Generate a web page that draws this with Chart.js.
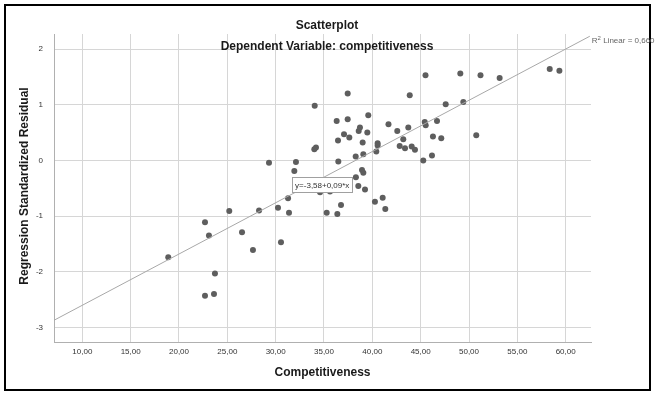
<!DOCTYPE html>
<html>
<head>
<meta charset="utf-8">
<script src="https://cdn.jsdelivr.net/npm/chart.js@4.4.1/dist/chart.umd.min.js"></script>
<style>
  html, body { margin: 0; padding: 0; background: #fff; }
</style>
</head>
<body>
<canvas id="scatterChart" width="655" height="394"></canvas>
<script>
// Competitiveness (x) vs regression standardized residual (y)
const competitiveness = [
    18.89, 22.69, 22.69, 23.10, 23.62, 23.72, 25.20, 26.52, 27.65, 28.28,
    29.31, 30.24, 30.55, 31.28, 31.38, 31.93, 32.10, 34.00, 34.04, 34.17,
    34.59, 35.28, 35.62, 36.31, 36.38, 36.45, 36.48, 36.76, 37.07, 37.45,
    37.45, 37.62, 38.28, 38.30, 38.55, 38.59, 38.72, 38.93, 39.00, 39.07,
    39.07, 39.24, 39.48, 39.58, 40.27, 40.41, 40.55, 40.55, 41.07, 41.34,
    41.67, 42.58, 42.83, 43.20, 43.38, 43.72, 43.87, 44.07, 44.41, 45.27,
    45.42, 45.50, 45.52, 46.17, 46.27, 46.69, 47.13, 47.59, 49.10, 49.41,
    50.75, 51.19, 53.17, 58.35, 59.35
];
const residuals = [
    -1.74, -1.11, -2.43, -1.35, -2.40, -2.03, -0.91, -1.29, -1.61, -0.90,
    -0.04, -0.85, -1.47, -0.68, -0.94, -0.19, -0.03, 0.20, 0.98, 0.23,
    -0.57, -0.94, -0.56, 0.71, -0.96, 0.36, -0.02, -0.80, 0.47, 1.20,
    0.74, 0.41, 0.07, -0.30, -0.46, 0.53, 0.59, -0.17, 0.32, -0.22,
    0.11, -0.52, 0.50, 0.81, -0.74, 0.16, 0.31, 0.27, -0.67, -0.87,
    0.65, 0.53, 0.26, 0.38, 0.22, 0.59, 1.17, 0.25, 0.19, 0.00,
    0.69, 1.53, 0.63, 0.09, 0.43, 0.71, 0.40, 1.01, 1.56, 1.05,
    0.45, 1.53, 1.48, 1.64, 1.61
];

// fit line end points (as drawn)
const fitX = [7.07, 62.5];
const fitY = [-2.87, 2.23];

const xTicks = [10, 15, 20, 25, 30, 35, 40, 45, 50, 55, 60];
const yTicks = [-3, -2, -1, 0, 1, 2];

const chartTitle = 'Scatterplot';
const chartSubtitle = 'Dependent Variable: competitiveness';
const xTitle = 'Competitiveness';
const yTitle = 'Regression Standardized Residual';
const eqLabel = 'y=-3,58+0,09*x';
const eqAnchor = [31.7, -0.44];
const r2Value = '0,660';

const FONT = '"Liberation Sans", Arial, sans-serif';

const decorPlugin = {
    id: 'decor',
    afterDraw(chart) {
        const { ctx, chartArea } = chart;
        const xs = chart.scales.x, ys = chart.scales.y;
        ctx.save();

        // frame
        ctx.strokeStyle = '#000';
        ctx.lineWidth = 2;
        ctx.strokeRect(5, 5, 645, 385);

        // titles
        ctx.fillStyle = '#1a1a1a';
        ctx.textAlign = 'center';
        ctx.textBaseline = 'middle';
        ctx.font = 'bold 12px ' + FONT;
        ctx.fillText(chartTitle, 327, 26);
        ctx.fillText(chartSubtitle, 327, 47);
        ctx.fillText(xTitle, (chartArea.left + chartArea.right) / 2, 373);

        ctx.save();
        ctx.translate(25, 186);
        ctx.rotate(-Math.PI / 2);
        ctx.fillText(yTitle, 0, 0);
        ctx.restore();

        // equation box
        const bx = xs.getPixelForValue(eqAnchor[0]);
        const by = ys.getPixelForValue(eqAnchor[1]);
        ctx.font = '8px ' + FONT;
        const w = ctx.measureText(eqLabel).width + 6;
        ctx.fillStyle = '#fff';
        ctx.fillRect(bx, by - 7.5, w, 15);
        ctx.strokeStyle = '#a0a0a0';
        ctx.lineWidth = 1;
        ctx.strokeRect(Math.round(bx) + 0.5, Math.round(by - 7.5) + 0.5, Math.round(w), 15);
        ctx.fillStyle = '#333';
        ctx.textAlign = 'left';
        ctx.fillText(eqLabel, bx + 3, by + 0.5);

        // R² label at end of fit line
        const rx = xs.getPixelForValue(fitX[1]) + 2;
        const ry = ys.getPixelForValue(fitY[1]) + 5;
        ctx.fillStyle = '#666';
        ctx.font = '8px ' + FONT;
        ctx.fillText('R', rx, ry);
        let off = ctx.measureText('R').width;
        ctx.font = '6px ' + FONT;
        ctx.fillText('2', rx + off, ry - 3);
        off += ctx.measureText('2').width;
        ctx.font = '8px ' + FONT;
        ctx.fillText(' Linear = ' + r2Value, rx + off, ry);

        ctx.restore();
    }
};

new Chart(document.getElementById('scatterChart'), {
    type: 'scatter',
    data: {
        datasets: [
            {
                type: 'line',
                data: fitX.map((x, i) => ({ x, y: fitY[i] })),
                borderColor: '#a8a8a8',
                borderWidth: 1,
                pointRadius: 0,
                fill: false,
                order: 0
            },
            {
                data: competitiveness.map((x, i) => ({ x, y: residuals[i] })),
                backgroundColor: '#5e5e5e',
                borderWidth: 0,
                pointRadius: 3,
                order: 1
            }
        ]
    },
    options: {
        responsive: false,
        animation: false,
        devicePixelRatio: 1,
        layout: { padding: { left: 0, top: 34, right: 64, bottom: 0 } },
        plugins: { legend: { display: false }, tooltip: { enabled: false } },
        scales: {
            x: {
                type: 'linear',
                min: 7.07,
                max: 62.62,
                afterFit: s => { s.height = 52; },
                afterBuildTicks: s => { s.ticks = xTicks.map(v => ({ value: v })); },
                grid: { color: '#d6d6d6', drawTicks: false },
                border: { color: '#b0b0b0' },
                ticks: {
                    autoSkip: false,
                    maxRotation: 0,
                    padding: 5,
                    color: '#333',
                    font: { family: FONT, size: 8 },
                    callback: v => v.toFixed(2).replace('.', ',')
                }
            },
            y: {
                type: 'linear',
                min: -3.26,
                max: 2.27,
                afterFit: s => { s.width = 54; },
                afterBuildTicks: s => { s.ticks = yTicks.map(v => ({ value: v })); },
                grid: { color: '#d6d6d6', drawTicks: false },
                border: { color: '#b0b0b0' },
                ticks: {
                    padding: 11,
                    color: '#333',
                    font: { family: FONT, size: 8 },
                    callback: v => String(v)
                }
            }
        }
    },
    plugins: [decorPlugin]
});
</script>
</body>
</html>
